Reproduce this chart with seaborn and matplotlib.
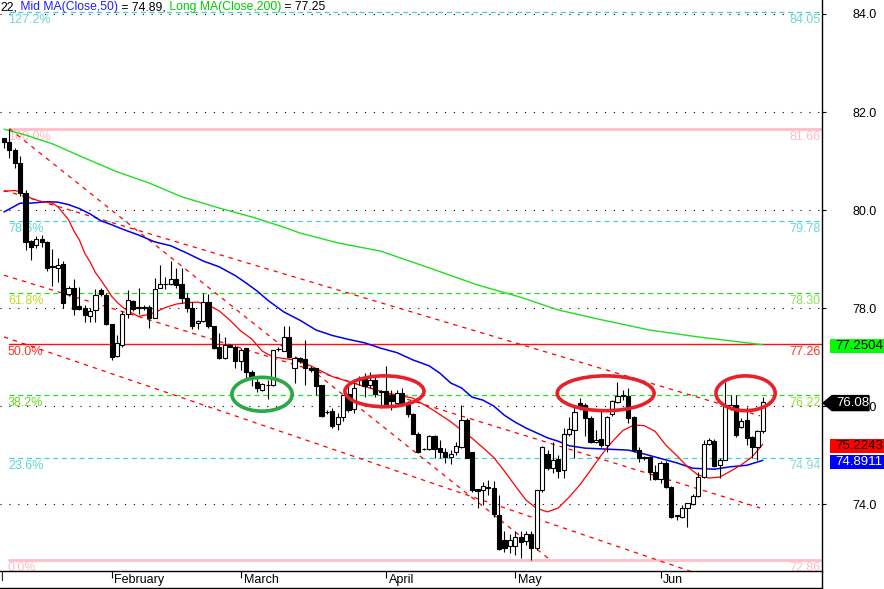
import matplotlib
matplotlib.use("Agg")
import matplotlib.pyplot as plt
import matplotlib.transforms as mtrans
from matplotlib.patches import Ellipse, Polygon, Rectangle
from matplotlib.lines import Line2D
import numpy as np
import pandas as pd
import seaborn as sns

# ---------------- data ----------------
opens = [81.47, 81.39, 81.22, 80.96, 80.35, 79.37, 79.29, 79.41, 79.35, 78.84,
         78.82, 78.90, 78.29, 78.41, 78.04, 78.00, 77.84, 77.96, 78.37, 78.27,
         77.67, 77.02, 77.24, 77.88, 78.14, 78.00, 78.02, 78.02, 77.80, 78.41,
         78.48, 78.49, 78.59, 78.49, 78.20, 78.00, 77.69, 77.73, 78.12, 77.63,
         77.20, 76.98, 77.24, 77.21, 76.92, 77.18, 76.69, 76.49, 76.33, 76.42,
         76.43, 77.16, 77.12, 77.41, 76.78, 76.98, 76.96, 76.78, 76.78, 76.43,
         75.87, 75.90, 75.63, 75.78, 76.24, 75.94, 76.58, 76.55, 76.43, 76.53,
         76.29, 76.31, 76.22, 76.07, 76.26, 76.04, 75.83, 75.43, 75.12, 75.12,
         75.39, 75.14, 75.06, 74.95, 75.06, 75.17, 75.71, 75.06, 74.30, 74.29,
         74.35, 74.33, 73.78, 73.27, 73.15, 73.15, 73.33, 73.24, 73.38, 73.11,
         74.29, 75.03, 74.73, 74.92, 74.69, 75.42, 75.51, 76.06, 76.02, 75.75,
         75.26, 75.32, 75.21, 75.83, 76.09, 76.21, 76.20, 75.77, 75.10, 74.94,
         74.96, 74.66, 74.51, 74.83, 74.35, 73.76, 73.74, 73.91, 74.01, 74.16,
         74.56, 75.23, 75.29, 74.80, 74.90, 75.96, 76.02, 75.58, 75.71, 75.37,
         75.16, 75.48]
highs = [81.47, 81.66, 81.27, 81.10, 80.41, 79.39, 79.47, 79.49, 79.37, 79.20,
         79.02, 78.96, 78.45, 78.59, 78.43, 78.06, 78.00, 78.39, 78.41, 78.31,
         77.67, 77.45, 77.94, 78.37, 78.16, 78.41, 78.06, 78.06, 78.61, 78.88,
         78.63, 78.96, 78.82, 78.82, 78.31, 78.12, 77.76, 78.31, 78.29, 77.63,
         77.49, 77.41, 77.27, 77.24, 77.18, 77.18, 76.73, 76.57, 76.47, 76.53,
         77.14, 77.20, 77.63, 77.63, 77.01, 77.00, 77.35, 76.82, 76.78, 76.43,
         75.92, 75.96, 75.85, 76.22, 76.43, 76.55, 76.61, 76.67, 76.69, 76.63,
         76.33, 76.82, 76.33, 76.33, 76.37, 76.10, 75.86, 75.47, 75.14, 75.41,
         75.41, 75.31, 75.14, 75.10, 75.27, 76.02, 75.76, 75.07, 74.31, 74.45,
         74.49, 74.47, 74.18, 73.44, 73.39, 73.44, 73.44, 73.45, 73.44, 74.29,
         75.18, 75.10, 75.27, 75.00, 75.55, 75.78, 76.02, 76.16, 76.06, 75.80,
         75.51, 75.92, 75.80, 76.12, 76.50, 76.33, 76.37, 75.80, 75.16, 74.98,
         74.98, 74.80, 74.88, 74.88, 74.37, 73.78, 73.98, 74.03, 74.20, 74.65,
         75.31, 75.35, 75.33, 74.94, 76.48, 76.22, 76.22, 75.76, 75.98, 75.39,
         75.51, 76.19]
lows = [81.27, 81.06, 80.86, 80.29, 79.18, 78.98, 79.22, 79.24, 78.76, 78.45,
        78.53, 78.00, 78.24, 77.86, 77.96, 77.71, 77.71, 77.71, 78.24, 77.65,
        76.94, 77.00, 77.20, 77.80, 77.94, 77.88, 77.96, 77.59, 77.80, 78.40,
        78.39, 78.47, 78.41, 78.10, 77.92, 77.57, 77.57, 77.71, 77.59, 77.16,
        76.96, 76.96, 77.20, 76.78, 76.73, 76.53, 76.41, 76.29, 76.31, 76.14,
        76.41, 77.12, 77.12, 76.98, 76.47, 76.88, 76.43, 76.69, 76.22, 75.78,
        75.84, 75.55, 75.51, 75.69, 75.87, 75.86, 76.43, 76.18, 76.37, 76.18,
        75.96, 76.00, 75.92, 76.04, 76.02, 75.78, 75.43, 75.04, 75.10, 75.10,
        74.94, 74.94, 74.84, 74.82, 75.00, 75.14, 74.94, 74.25, 73.92, 73.98,
        74.18, 73.74, 73.06, 73.03, 73.00, 72.96, 72.89, 73.16, 72.86, 73.06,
        74.25, 74.69, 74.63, 74.53, 74.53, 75.39, 74.94, 75.92, 75.39, 75.24,
        75.24, 75.16, 75.07, 75.80, 76.06, 76.12, 75.65, 75.06, 74.86, 74.90,
        74.49, 74.49, 74.43, 74.33, 73.71, 73.67, 73.71, 73.53, 73.98, 74.14,
        74.53, 75.20, 74.76, 74.53, 74.90, 75.92, 75.37, 75.55, 75.20, 74.94,
        74.90, 75.44]
closes = [81.39, 81.22, 80.96, 80.35, 79.35, 79.24, 79.41, 79.35, 78.82, 78.84,
          78.88, 78.10, 78.41, 77.98, 77.98, 77.86, 77.94, 78.27, 78.29, 77.67,
          77.00, 77.29, 77.88, 78.16, 77.98, 78.00, 78.00, 77.80, 78.39, 78.49,
          78.48, 78.59, 78.47, 78.20, 78.00, 77.63, 77.73, 78.12, 77.63, 77.18,
          76.98, 77.24, 77.21, 76.92, 77.14, 76.69, 76.57, 76.37, 76.45, 76.42,
          77.14, 77.16, 77.41, 77.00, 76.97, 76.92, 76.78, 76.73, 76.41, 75.80,
          75.87, 75.60, 75.78, 76.22, 75.92, 76.37, 76.53, 76.41, 76.53, 76.24,
          76.29, 76.04, 76.10, 76.26, 76.04, 75.83, 75.43, 75.06, 75.12, 75.39,
          75.12, 75.06, 74.96, 75.02, 75.18, 75.71, 74.94, 74.29, 74.27, 74.37,
          74.32, 73.79, 73.08, 73.10, 73.27, 73.33, 73.23, 73.38, 73.11, 74.29,
          75.17, 74.73, 74.90, 74.68, 75.42, 75.53, 75.88, 75.96, 75.75, 75.27,
          75.31, 75.20, 75.77, 76.10, 76.21, 76.21, 75.75, 75.10, 74.93, 74.94,
          74.66, 74.51, 74.83, 74.34, 73.73, 73.76, 73.91, 74.02, 74.16, 74.56,
          75.23, 75.31, 74.78, 74.90, 76.02, 76.02, 75.41, 75.70, 75.34, 75.16,
          75.48, 76.08]

# moving averages read at selected bars
short_ma_bar = [0, 2, 3, 5, 7, 9, 10, 12, 13, 14, 15, 16, 17, 18, 19, 20, 21, 22, 23, 25,
                27, 28, 30, 32, 34, 36, 38, 40, 42, 44, 46, 48, 50, 52, 54, 57, 61, 66, 71, 76,
                80, 83, 87, 89, 91, 93, 95, 97, 99, 101, 103, 105, 107, 109, 111, 113, 115, 117,
                119, 121, 123, 125, 127, 129, 131, 133, 135, 137, 139, 141]
short_ma_val = [80.38, 80.40, 80.37, 80.24, 80.17, 80.14, 80.07, 79.80, 79.57, 79.39, 79.12, 78.94,
                78.72, 78.57, 78.41, 78.24, 78.12, 78.02, 77.94, 77.83, 77.87, 77.91, 78.01, 78.08,
                78.11, 78.12, 78.06, 77.94, 77.75, 77.53, 77.37, 77.12, 77.00, 76.97, 76.94, 76.82,
                76.60, 76.43, 76.27, 76.16, 75.90, 75.68, 75.34, 75.15, 74.95, 74.67, 74.37, 74.08,
                73.91, 73.84, 73.92, 74.14, 74.39, 74.69, 75.00, 75.27, 75.50, 75.61, 75.60, 75.48,
                75.20, 74.99, 74.76, 74.59, 74.53, 74.55, 74.67, 74.80, 74.96, 75.22]
mid_ma_bar = [0, 3, 5, 8, 10, 12, 14, 16, 18, 20, 22, 25, 28, 31, 34, 37, 40, 43, 45, 47, 49,
              52, 55, 58, 61, 64, 67, 70, 73, 76, 79, 81, 83, 85, 87, 89, 91, 93, 95, 97, 99,
              101, 103, 105, 108, 112, 116, 119, 122, 125, 128, 132, 135, 138, 141]
mid_ma_val = [79.96, 80.14, 80.14, 80.17, 80.16, 80.11, 80.03, 79.92, 79.78, 79.70, 79.61, 79.49,
              79.35, 79.27, 79.12, 78.96, 78.84, 78.66, 78.51, 78.35, 78.16, 77.92, 77.75, 77.55,
              77.44, 77.36, 77.29, 77.18, 77.09, 76.94, 76.82, 76.67, 76.47, 76.37, 76.18, 76.12,
              76.00, 75.81, 75.67, 75.55, 75.45, 75.35, 75.28, 75.19, 75.14, 75.12, 75.10, 75.02,
              74.93, 74.84, 74.73, 74.71, 74.76, 74.79, 74.89]
long_ma_bar = [0, 4, 9, 15, 21, 27, 33, 40, 46, 52, 55, 62, 70, 79, 88, 96, 103, 111, 120, 129,
               135, 141]
long_ma_val = [81.65, 81.53, 81.35, 81.06, 80.78, 80.55, 80.27, 80.04, 79.86, 79.65, 79.53, 79.33,
               79.16, 78.82, 78.47, 78.22, 77.96, 77.76, 77.55, 77.41, 77.33, 77.25]

# trend lines (start bar, start price, end bar, end price)
trend_bar0 = [0, 1, 0, 0]
trend_p0 = [80.40, 81.66, 78.67, 77.41]
trend_bar1 = [140.5, 101.5, 140.5, 128.0]
trend_p1 = [75.80, 72.86, 73.92, 72.61]

# Fibonacci retracement
fib_levels = [84.05, 81.66, 79.78, 78.30, 77.26, 76.22, 74.94, 72.86]
fib_pcts = ["127.2%", "100.0%", "78.6%", "61.8%", "50.0%", "38.2%", "23.6%", "0.0%"]
fib_values = ["84.05", "81.66", "79.78", "78.30", "77.26", "76.22", "74.94", "72.86"]

price_ticks = [74.0, 76.0, 78.0, 80.0, 82.0, 84.0]
month_bar = [20, 44, 71, 95, 122]
month_labels = ["February", "March", "April", "May", "Jun"]

# highlighted zones (centre bar, centre price, width in bars, height in price)
zone_bar = [47.95, 70.7, 111.8, 137.8]
zone_price = [76.24, 76.30, 76.26, 76.26]
zone_w = [11.2, 14.7, 18.0, 11.0]
zone_h = [0.69, 0.63, 0.71, 0.71]

last_close = 76.08
short_last, mid_last, long_last = 75.2243, 74.8911, 77.2504

# ---------------- figure ----------------
sns.set_style("white")
plt.rcParams['font.family'] = ['Liberation Sans', 'DejaVu Sans']
W, H = 884, 589
fig = plt.figure(figsize=(W / 100, H / 100), dpi=100)
fig.patch.set_facecolor('white')
ax = fig.add_axes([0, 18 / H, 822 / W, 571 / H])
ax.set_facecolor('white')
ax.set_xlim(-0.74, 152.0)
ax.set_ylim(72.633, 84.2857)

# dotted price grid
for v in price_ticks:
    ax.axhline(v, color='black', lw=0.8, ls=(0, (1, 7)), zorder=1)

# fib lines
CY, PK, GR, RD = '#3fd3d3', '#ffbfca', '#22dd22', '#ff1010'
line_style = [(CY, (0, (4, 3)), 0.9), (PK, '-', 2.0), (CY, (0, (4, 3)), 0.9), (GR, (0, (4, 3)), 0.9),
              (RD, '-', 1.0), (GR, (0, (4, 3)), 0.9), (CY, (0, (4, 3)), 0.9), (PK, '-', 2.0)]
lab_left = ['#6fd8d8', '#ffbcc8', '#5cd6d6', '#c4d820', '#ff3030', '#6ad820', '#5cd6d6', '#ffbcc8']
lab_right = ['#6fd8d8', '#ffbcc8', '#6fd8d8', '#8ee05a', '#ff3030', '#98e040', '#86d8d8', '#ffbcc8']
for lev, pct, val, (col, ls, lw), cl, cr in zip(fib_levels, fib_pcts, fib_values, line_style,
                                               lab_left, lab_right):
    ax.plot([1, 152.0], [lev, lev], color=col, ls=ls, lw=lw, zorder=2)
    ax.annotate(pct, xy=(0.74, lev), xytext=(0, -2), textcoords='offset pixels',
                ha='left', va='top', fontsize=9, color=cl, zorder=2)
    ax.annotate(val, xy=(151.8, lev), xytext=(0, -2), textcoords='offset pixels',
                ha='right', va='top', fontsize=9, color=cr, zorder=2)

# trend lines
for b0, p0, b1, p1 in zip(trend_bar0, trend_p0, trend_bar1, trend_p1):
    ax.plot([b0, b1], [p0, p1], color='#ff0000', lw=0.9, ls=(0, (3.5, 4)), zorder=3)

# moving averages through seaborn
sns.lineplot(x=long_ma_bar, y=long_ma_val, ax=ax, color='#22dd22', lw=1.0, zorder=3)
sns.lineplot(x=mid_ma_bar, y=mid_ma_val, ax=ax, color='#0000ee', lw=1.1, zorder=3)
sns.lineplot(x=short_ma_bar, y=short_ma_val, ax=ax, color='#ff0000', lw=0.9, zorder=3)

# candles
o = np.array(opens); c = np.array(closes); h = np.array(highs); l = np.array(lows)
bars = np.arange(len(o))
up = c >= o
lo = np.minimum(o, c)
bh = np.maximum(np.abs(c - o), 0.012)
ax.vlines(bars, l, h, color='black', lw=0.8, zorder=4)
ax.bar(bars[up], bh[up], bottom=lo[up], width=0.78, color='white', edgecolor='black', lw=0.8, zorder=5)
ax.bar(bars[~up], bh[~up], bottom=lo[~up], width=0.78, color='black', edgecolor='black', lw=0.8, zorder=5)

# ellipses
zone_col = ['#2aa845', '#e8202a', '#e8202a', '#e8202a']
for zb, zp, zw, zh, zc in zip(zone_bar, zone_price, zone_w, zone_h, zone_col):
    ax.add_patch(Ellipse((zb, zp), zw, zh, fill=False, ec=zc, lw=2.6, zorder=10))

# axes / ticks
for s in ['left', 'top']:
    ax.spines[s].set_visible(False)
for s in ['right', 'bottom']:
    ax.spines[s].set_color('black')
    ax.spines[s].set_linewidth(1.0)
ax.yaxis.tick_right()
ax.set_yticks(price_ticks)
ax.set_yticklabels([f"{v:.1f}" for v in price_ticks])
ax.tick_params(axis='y', which='both', right=True, left=False, direction='out', length=3,
               width=0.8, pad=19, labelsize=9, colors='black')
ax.set_xticks(month_bar)
ax.set_xticklabels(month_labels, ha='left')
ax.tick_params(axis='x', bottom=True, direction='out', length=5, width=0.8, pad=-3,
               labelsize=9, colors='black')
off = mtrans.ScaledTranslation(2 / 72, 0, fig.dpi_scale_trans)
for lab in ax.get_xticklabels():
    lab.set_transform(lab.get_transform() + off)
ax.set_xlabel(''); ax.set_ylabel('')
ax.grid(False)

# frame extensions
fig.add_artist(Line2D([0, 822 / W], [1 / H, 1 / H], color='black', lw=1.0, transform=fig.transFigure))
fig.add_artist(Line2D([822 / W, 822 / W], [0, 18 / H], color='black', lw=1.0, transform=fig.transFigure))
fig.text(0.5 / W, 1 - 578 / H, 'l', fontsize=9, va='center', ha='left')

# value boxes on the right
ID = mtrans.IdentityTransform()
def ydisp(p):
    return ax.transData.transform((0, p))[1]

def value_box(p, txt, fc, tc, dy=-1.5):
    yc = ydisp(p) + dy
    fig.add_artist(Rectangle((830, yc - 7), 60, 14, transform=ID, fc=fc, ec='none', zorder=20))
    fig.text(835, yc, txt, transform=ID, fontsize=9.5, color=tc, va='center', ha='left', zorder=21)

value_box(long_last, f"{long_last:.4f}", '#00ff00', 'black')
value_box(short_last, f"{short_last:.4f}", '#ff0000', 'black')
value_box(mid_last, f"{mid_last:.4f}", '#0000ff', 'white')
yc = ydisp(last_close) - 1
fig.add_artist(Polygon([(823, yc), (832, yc + 7.5), (869, yc + 7.5), (869, yc - 7.5), (832, yc - 7.5)],
                       closed=True, transform=ID, fc='black', ec='black', zorder=20))
fig.text(836, yc, f"{last_close:.2f}", transform=ID, fontsize=9.5, color='white',
         va='center', ha='left', zorder=21)

# coloured legend line at top
fig.canvas.draw()
r = fig.canvas.get_renderer()
parts = [("22,", 'black'), (" Mid MA(Close,50)", '#2020ff'), (" = 74.89,", 'black'),
         (" Long MA(Close,200)", '#00cc00'), (" = 77.25", 'black')]
x = 0.0
for s, col in parts:
    t = fig.text(x, H - 7, s, transform=ID, fontsize=8.7, color=col, va='center', ha='left', zorder=22)
    x += t.get_window_extent(r).width

fig.savefig('out.png', dpi=100, facecolor='white')
